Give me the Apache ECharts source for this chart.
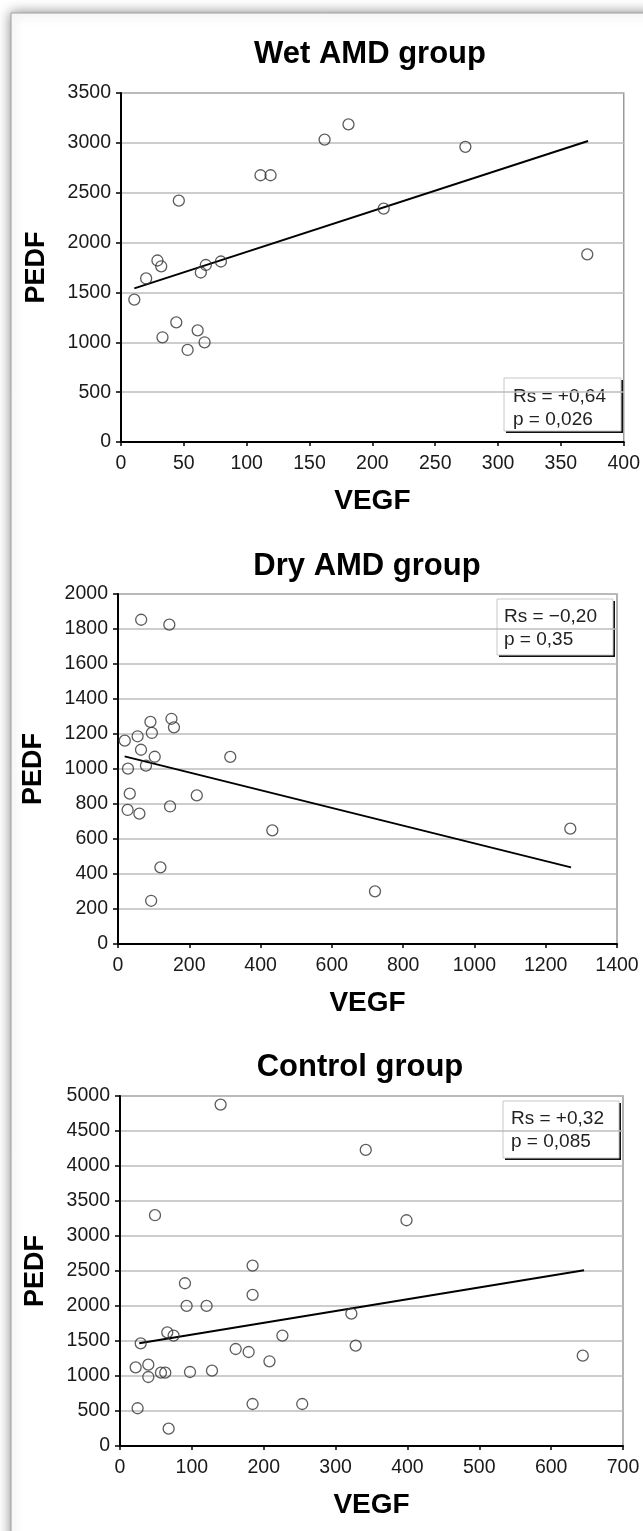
<!DOCTYPE html>
<html>
<head>
<meta charset="utf-8">
<script src="https://cdn.jsdelivr.net/npm/echarts@6/dist/echarts.min.js"></script>
<style>
  html, body { margin: 0; padding: 0; background: #fff; }
  #main { width: 643px; height: 1531px; }
</style>
</head>
<body>
<div id="main"></div>
<script>
var FONT = 'Arial, "Liberation Sans", Helvetica, sans-serif';

// Wet AMD group
var wetVegf = [10.6, 20, 29, 32, 46, 44, 33, 53, 61, 66.5, 63.5, 67.5, 79.5, 111, 119, 162, 181, 274, 209, 371];
var wetPedf = [1428, 1640, 1820, 1762, 2420, 1200, 1050, 923, 1120, 1000, 1700, 1775, 1810, 2675, 2675, 3033, 3186, 2960, 2341, 1882];
var wetTrendX = [10.6, 371.6];
var wetTrendY = [1541, 3019];

// Dry AMD group
var dryVegf = [65, 144, 91, 150, 157, 95, 19, 55, 64.5, 103, 78.5, 28, 315, 33, 27, 60, 146, 221, 433, 119, 93, 721, 1269];
var dryPedf = [1853, 1825, 1269, 1287, 1238, 1206, 1162, 1187, 1110, 1070, 1019, 1002, 1069, 859, 766, 745, 786, 849, 649, 438, 247, 301, 659];
var dryTrendX = [18.6, 1271];
var dryTrendY = [1072, 438];

// Control group
var ctrlVegf = [140, 342, 48.7, 184.5, 184.5, 90.4, 92.7, 120.5, 322, 65.8, 74.6, 28.8, 226, 328, 161, 179, 208, 21.8, 39.4, 39.4, 57, 63, 97.4, 128, 24.5, 184.5, 253.6, 67.7, 398.7, 644];
var ctrlPedf = [4877, 4230, 3297, 2577, 2158, 2325, 2001, 2001, 1891, 1624, 1577, 1467, 1577, 1434, 1386, 1343, 1210, 1124, 1162, 986, 1048, 1048, 1057, 1076, 539, 600, 600, 248, 3225, 1291];
var ctrlTrendX = [26.8, 645.8];
var ctrlTrendY = [1467, 2510];

var titles = ['Wet AMD group', 'Dry AMD group', 'Control group'];
var statsRs = ['Rs = +0,64', 'Rs = \u22120,20', 'Rs = +0,32'];
var statsP = ['p = 0,026', 'p = 0,35', 'p = 0,085'];

var xMax = [400, 1400, 700];
var xStep = [50, 200, 100];
var yMax = [3500, 2000, 5000];
var yStep = [500, 200, 500];

function pairs(xs, ys) {
    return xs.map(function (x, i) { return [x, ys[i]]; });
}
function plain(v) { return String(v); } // no thousands separator

var myChart = echarts.init(document.getElementById('main'));

var grids = [
    { left: 121, top: 93, width: 503, height: 349 },
    { left: 118, top: 594, width: 499, height: 350 },
    { left: 120, top: 1096, width: 503, height: 350 }
];
grids.forEach(function (g) {
    g.show = true;
    g.borderColor = '#9a9a9a';
    g.borderWidth = 1.5;
    g.backgroundColor = 'transparent';
});

var xAxes = [], yAxes = [];
for (var i = 0; i < 3; i++) {
    xAxes.push({
        type: 'value', gridIndex: i, min: 0, max: xMax[i], interval: xStep[i],
        name: 'VEGF', nameLocation: 'middle', nameGap: 45,
        nameTextStyle: { fontSize: 28, fontWeight: 'bold', color: '#000', fontFamily: FONT },
        axisLine: { show: true, onZero: false, lineStyle: { color: '#000', width: 2 } },
        axisTick: { show: true, length: 4, lineStyle: { color: '#000', width: 1.5 } },
        axisLabel: { color: '#1a1a1a', fontSize: 19.5, margin: 12, fontFamily: FONT, formatter: plain },
        splitLine: { show: false }
    });
    yAxes.push({
        type: 'value', gridIndex: i, min: 0, max: yMax[i], interval: yStep[i],
        name: 'PEDF', nameLocation: 'middle', nameGap: 71, nameRotate: 90,
        nameTextStyle: { fontSize: 27, fontWeight: 'bold', color: '#000', fontFamily: FONT },
        axisLine: { show: true, onZero: false, lineStyle: { color: '#000', width: 2 } },
        axisTick: { show: true, length: 5, lineStyle: { color: '#000', width: 1.5 } },
        axisLabel: { color: '#1a1a1a', fontSize: 19.5, margin: 10, fontFamily: FONT, formatter: plain },
        splitLine: { show: true, lineStyle: { color: '#bdbdbd', width: 1.5 } }
    });
}

var groups = [
    { pts: pairs(wetVegf, wetPedf), trend: pairs(wetTrendX, wetTrendY) },
    { pts: pairs(dryVegf, dryPedf), trend: pairs(dryTrendX, dryTrendY) },
    { pts: pairs(ctrlVegf, ctrlPedf), trend: pairs(ctrlTrendX, ctrlTrendY) }
];

var series = [];
groups.forEach(function (g, i) {
    series.push({
        type: 'line', xAxisIndex: i, yAxisIndex: i, data: g.trend,
        symbol: 'none', silent: true, z: 2,
        lineStyle: { color: '#000', width: 2 }
    });
    series.push({
        type: 'scatter', xAxisIndex: i, yAxisIndex: i, data: g.pts,
        symbol: 'circle', symbolSize: 11, z: 3,
        itemStyle: { color: 'rgba(255,255,255,0)', borderColor: '#333', borderWidth: 1.3 }
    });
});

// title positions and stat boxes (pixel layout)
var titlePos = [[370, 54], [367, 566], [360, 1067]];
var boxPos = [
    { x: 504, y: 378, w: 117, h: 53, tx: 9, l1: 19, l2: 42 },
    { x: 497, y: 599, w: 116, h: 56, tx: 7, l1: 17.5, l2: 41 },
    { x: 503, y: 1101, w: 116, h: 57, tx: 8, l1: 17.5, l2: 41 }
];

var graphics = [{
    type: 'rect', z: -10,
    shape: { x: 11, y: 13, width: 700, height: 1560 },
    style: { fill: '#fff', stroke: '#a0a0a0', lineWidth: 1, shadowBlur: 12, shadowColor: 'rgba(0,0,0,0.45)' }
}];

titles.forEach(function (t, i) {
    graphics.push({
        type: 'text', z: 10,
        style: {
            text: t, x: titlePos[i][0], y: titlePos[i][1],
            align: 'center', verticalAlign: 'middle',
            textAlign: 'center', textVerticalAlign: 'middle',
            font: 'bold 31px ' + FONT, fill: '#000'
        }
    });
});

boxPos.forEach(function (b, i) {
    graphics.push({
        type: 'group', x: b.x, y: b.y, z: 100,
        children: [
            { type: 'rect', shape: { x: 2, y: 2, width: b.w, height: b.h }, style: { fill: '#111' } },
            { type: 'rect', shape: { x: 0, y: 0, width: b.w, height: b.h }, style: { fill: '#fff', stroke: '#c8c8c8', lineWidth: 1 } },
            { type: 'text', style: { text: statsRs[i], x: b.tx, y: b.l1, align: 'left', verticalAlign: 'middle', textVerticalAlign: 'middle', font: '19px ' + FONT, fill: '#222' } },
            { type: 'text', style: { text: statsP[i], x: b.tx, y: b.l2, align: 'left', verticalAlign: 'middle', textVerticalAlign: 'middle', font: '19px ' + FONT, fill: '#222' } }
        ]
    });
});

var option = {
    animation: false,
    backgroundColor: '#fff',
    textStyle: { fontFamily: FONT },
    grid: grids,
    xAxis: xAxes,
    yAxis: yAxes,
    series: series,
    graphic: graphics
};

myChart.setOption(option);
</script>
</body>
</html>
